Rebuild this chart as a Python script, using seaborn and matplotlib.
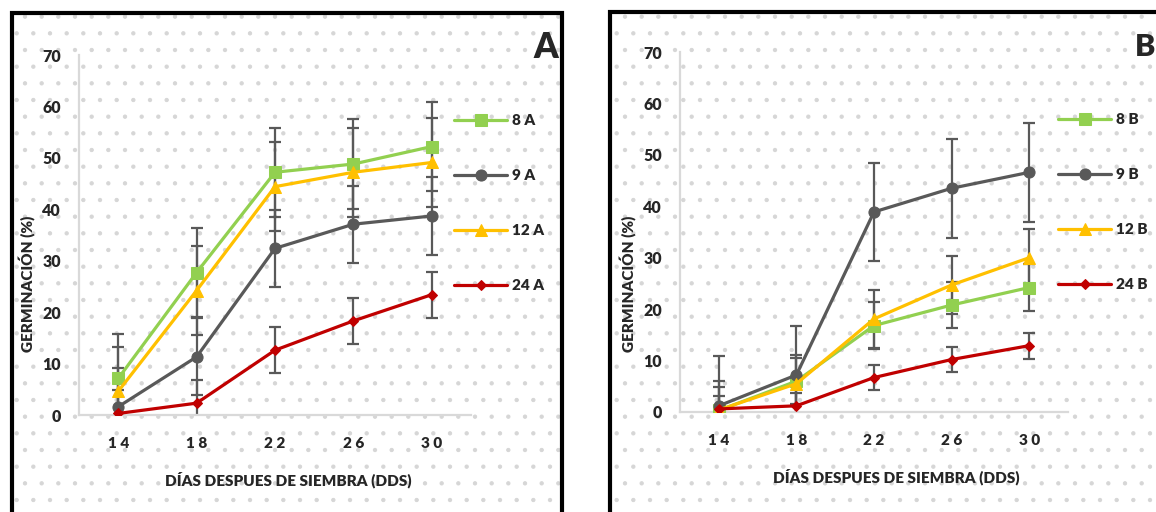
import matplotlib
matplotlib.use("Agg")
import matplotlib.pyplot as plt
from matplotlib.patches import Rectangle
import seaborn as sns
import pandas as pd

# ---------------- data ----------------
days = [14, 18, 22, 26, 30]
tick_labels = ["1 4", "1 8", "2 2", "2 6", "3 0"]

series_A = ["8 A", "9 A", "12 A", "24 A"]
vals_8A = [7.1, 27.7, 47.2, 48.8, 52.2]
vals_9A = [1.6, 11.3, 32.4, 37.1, 38.7]
vals_12A = [4.6, 24.2, 44.4, 47.2, 49.1]
vals_24A = [0.3, 2.3, 12.6, 18.3, 23.4]
err_8A = [8.7, 8.7, 8.7, 8.7, 8.7]
err_9A = [7.5, 7.5, 7.5, 7.5, 7.5]
err_12A = [8.7, 8.7, 8.7, 8.7, 8.7]
err_24A = [4.5, 4.5, 4.5, 4.5, 4.5]

series_B = ["8 B", "9 B", "12 B", "24 B"]
vals_8B = [0.3, 6.0, 16.8, 20.8, 24.2]
vals_9B = [1.2, 7.2, 38.9, 43.5, 46.6]
vals_12B = [0.4, 5.5, 18.1, 24.7, 30.0]
vals_24B = [0.6, 1.2, 6.7, 10.2, 12.9]
err_8B = [4.5, 4.5, 4.5, 4.5, 4.5]
err_9B = [9.6, 9.6, 9.6, 9.6, 9.6]
err_12B = [5.6, 5.6, 5.6, 5.6, 5.6]
err_24B = [2.5, 2.5, 2.5, 2.5, 2.5]

y_label = "GERMINACIÓN (%)"
x_label = "DÍAS DESPUES DE SIEMBRA (DDS)"

colors = ["#92D050", "#595959", "#FFC000", "#C00000"]
markers = ["s", "o", "^", "D"]
msizes = [8.0, 8.0, 8.0, 5.0]

# ---------------- style ----------------
sns.set_style("white")
plt.rcParams["font.family"] = ["Lato", "DejaVu Sans"]
plt.rcParams["font.weight"] = "heavy"
plt.rcParams["hatch.linewidth"] = 0.7

FW = "heavy"
W, H = 1156, 512
fig = plt.figure(figsize=(W / 100, H / 100), dpi=100)
fig.patch.set_facecolor("white")


def px_rect(x0, y0, x1, y1):
    return (x0 / W, 1 - y1 / H, (x1 - x0) / W, (y1 - y0) / H)


# panel backgrounds (dotted) and frames
for (x0, y0, x1) in [(12, 13, 562), (610, 12, 1200)]:
    l, b, w, h = px_rect(x0, y0, x1, 560)
    fig.patches.append(Rectangle((l, b), w, h, transform=fig.transFigure,
                                 facecolor="white", edgecolor="#d6d6d6",
                                 hatch=".", linewidth=0, zorder=-5))
    fig.patches.append(Rectangle((l, b), w, h, transform=fig.transFigure,
                                 fill=False, edgecolor="black",
                                 linewidth=3.0, zorder=5))


def make_panel(rect, names, vals, errs, show_yticks, legend_x, legend_cy):
    ax = fig.add_axes(rect)
    ax.set_facecolor("none")
    ax.set_zorder(1)
    pos = list(range(len(days)))
    for i, (name, v, e) in enumerate(zip(names, vals, errs)):
        ax.errorbar(pos, v, yerr=e, fmt="none", ecolor="#595959",
                    elinewidth=1.6, capsize=4.5, capthick=1.6, zorder=2)
    for i, (name, v) in enumerate(zip(names, vals)):
        df = pd.DataFrame({"x": pos, "y": v})
        sns.lineplot(data=df, x="x", y="y", ax=ax, color=colors[i],
                     marker=markers[i], markersize=msizes[i],
                     markeredgecolor=colors[i], linewidth=2.3,
                     label=name, zorder=3 + i)
    ax.set_xlim(-0.5, len(days) - 0.5)
    ax.set_ylim(0, 70)
    ax.set_yticks(range(0, 71, 10))
    ax.set_xticks(pos)
    ax.set_xticklabels(tick_labels, fontsize=11, fontweight=FW)
    ax.set_xticks([p - 0.5 for p in range(len(days) + 1)], minor=True)
    for s in ["top", "right"]:
        ax.spines[s].set_visible(False)
    for s in ["left", "bottom"]:
        ax.spines[s].set_color("#d9d9d9")
        ax.spines[s].set_linewidth(1.6)
    ax.tick_params(axis="x", which="major", length=0, pad=16)
    if show_yticks:
        ax.tick_params(axis="x", which="minor", length=5, width=1.3,
                       color="#d9d9d9", direction="out")
        ax.tick_params(axis="y", length=6, width=1.3, color="#d9d9d9",
                       pad=7, labelsize=11.5)
    else:
        ax.tick_params(axis="x", which="minor", length=0)
        ax.tick_params(axis="y", length=0, pad=13, labelsize=11.5)
    for t in ax.get_yticklabels():
        t.set_fontweight(FW)
    ax.set_xlabel("")
    ax.set_ylabel("")
    ax.grid(False)
    ax.legend(loc="center left",
              bbox_to_anchor=(legend_x / W, 1 - legend_cy / H),
              bbox_transform=fig.transFigure, frameon=False,
              borderaxespad=0, borderpad=0, handlelength=3.5,
              handletextpad=0.3, labelspacing=2.75,
              prop={"size": 11, "weight": FW})
    return ax


# Panel A
axA = make_panel((79 / W, 1 - 415 / H, 392 / W, 360 / H), series_A,
                 [vals_8A, vals_9A, vals_12A, vals_24A],
                 [err_8A, err_9A, err_12A, err_24A], True, 454, 203)
# Panel B
axB = make_panel((680 / W, 1 - 412 / H, 388 / W, 360 / H), series_B,
                 [vals_8B, vals_9B, vals_12B, vals_24B],
                 [err_8B, err_9B, err_12B, err_24B], False, 1058, 202)

# axis titles
fig.text(27 / W, 1 - 284 / H, y_label, rotation=90, ha="center",
         va="center", fontsize=11, fontweight=FW)
fig.text(628 / W, 1 - 284 / H, y_label, rotation=90, ha="center",
         va="center", fontsize=11, fontweight=FW)
fig.text(288 / W, 1 - 480 / H, x_label, ha="center", va="center",
         fontsize=11, fontweight=FW)
fig.text(896 / W, 1 - 477 / H, x_label, ha="center", va="center",
         fontsize=11, fontweight=FW)

# panel letters
fig.text(533 / W, 1 - 58 / H, "A", ha="left", va="baseline",
         fontsize=25, fontweight=FW)
fig.text(1135 / W, 1 - 56 / H, "B", ha="left", va="baseline",
         fontsize=22, fontweight=FW)

fig.savefig("out.png", dpi=100, facecolor="white")
